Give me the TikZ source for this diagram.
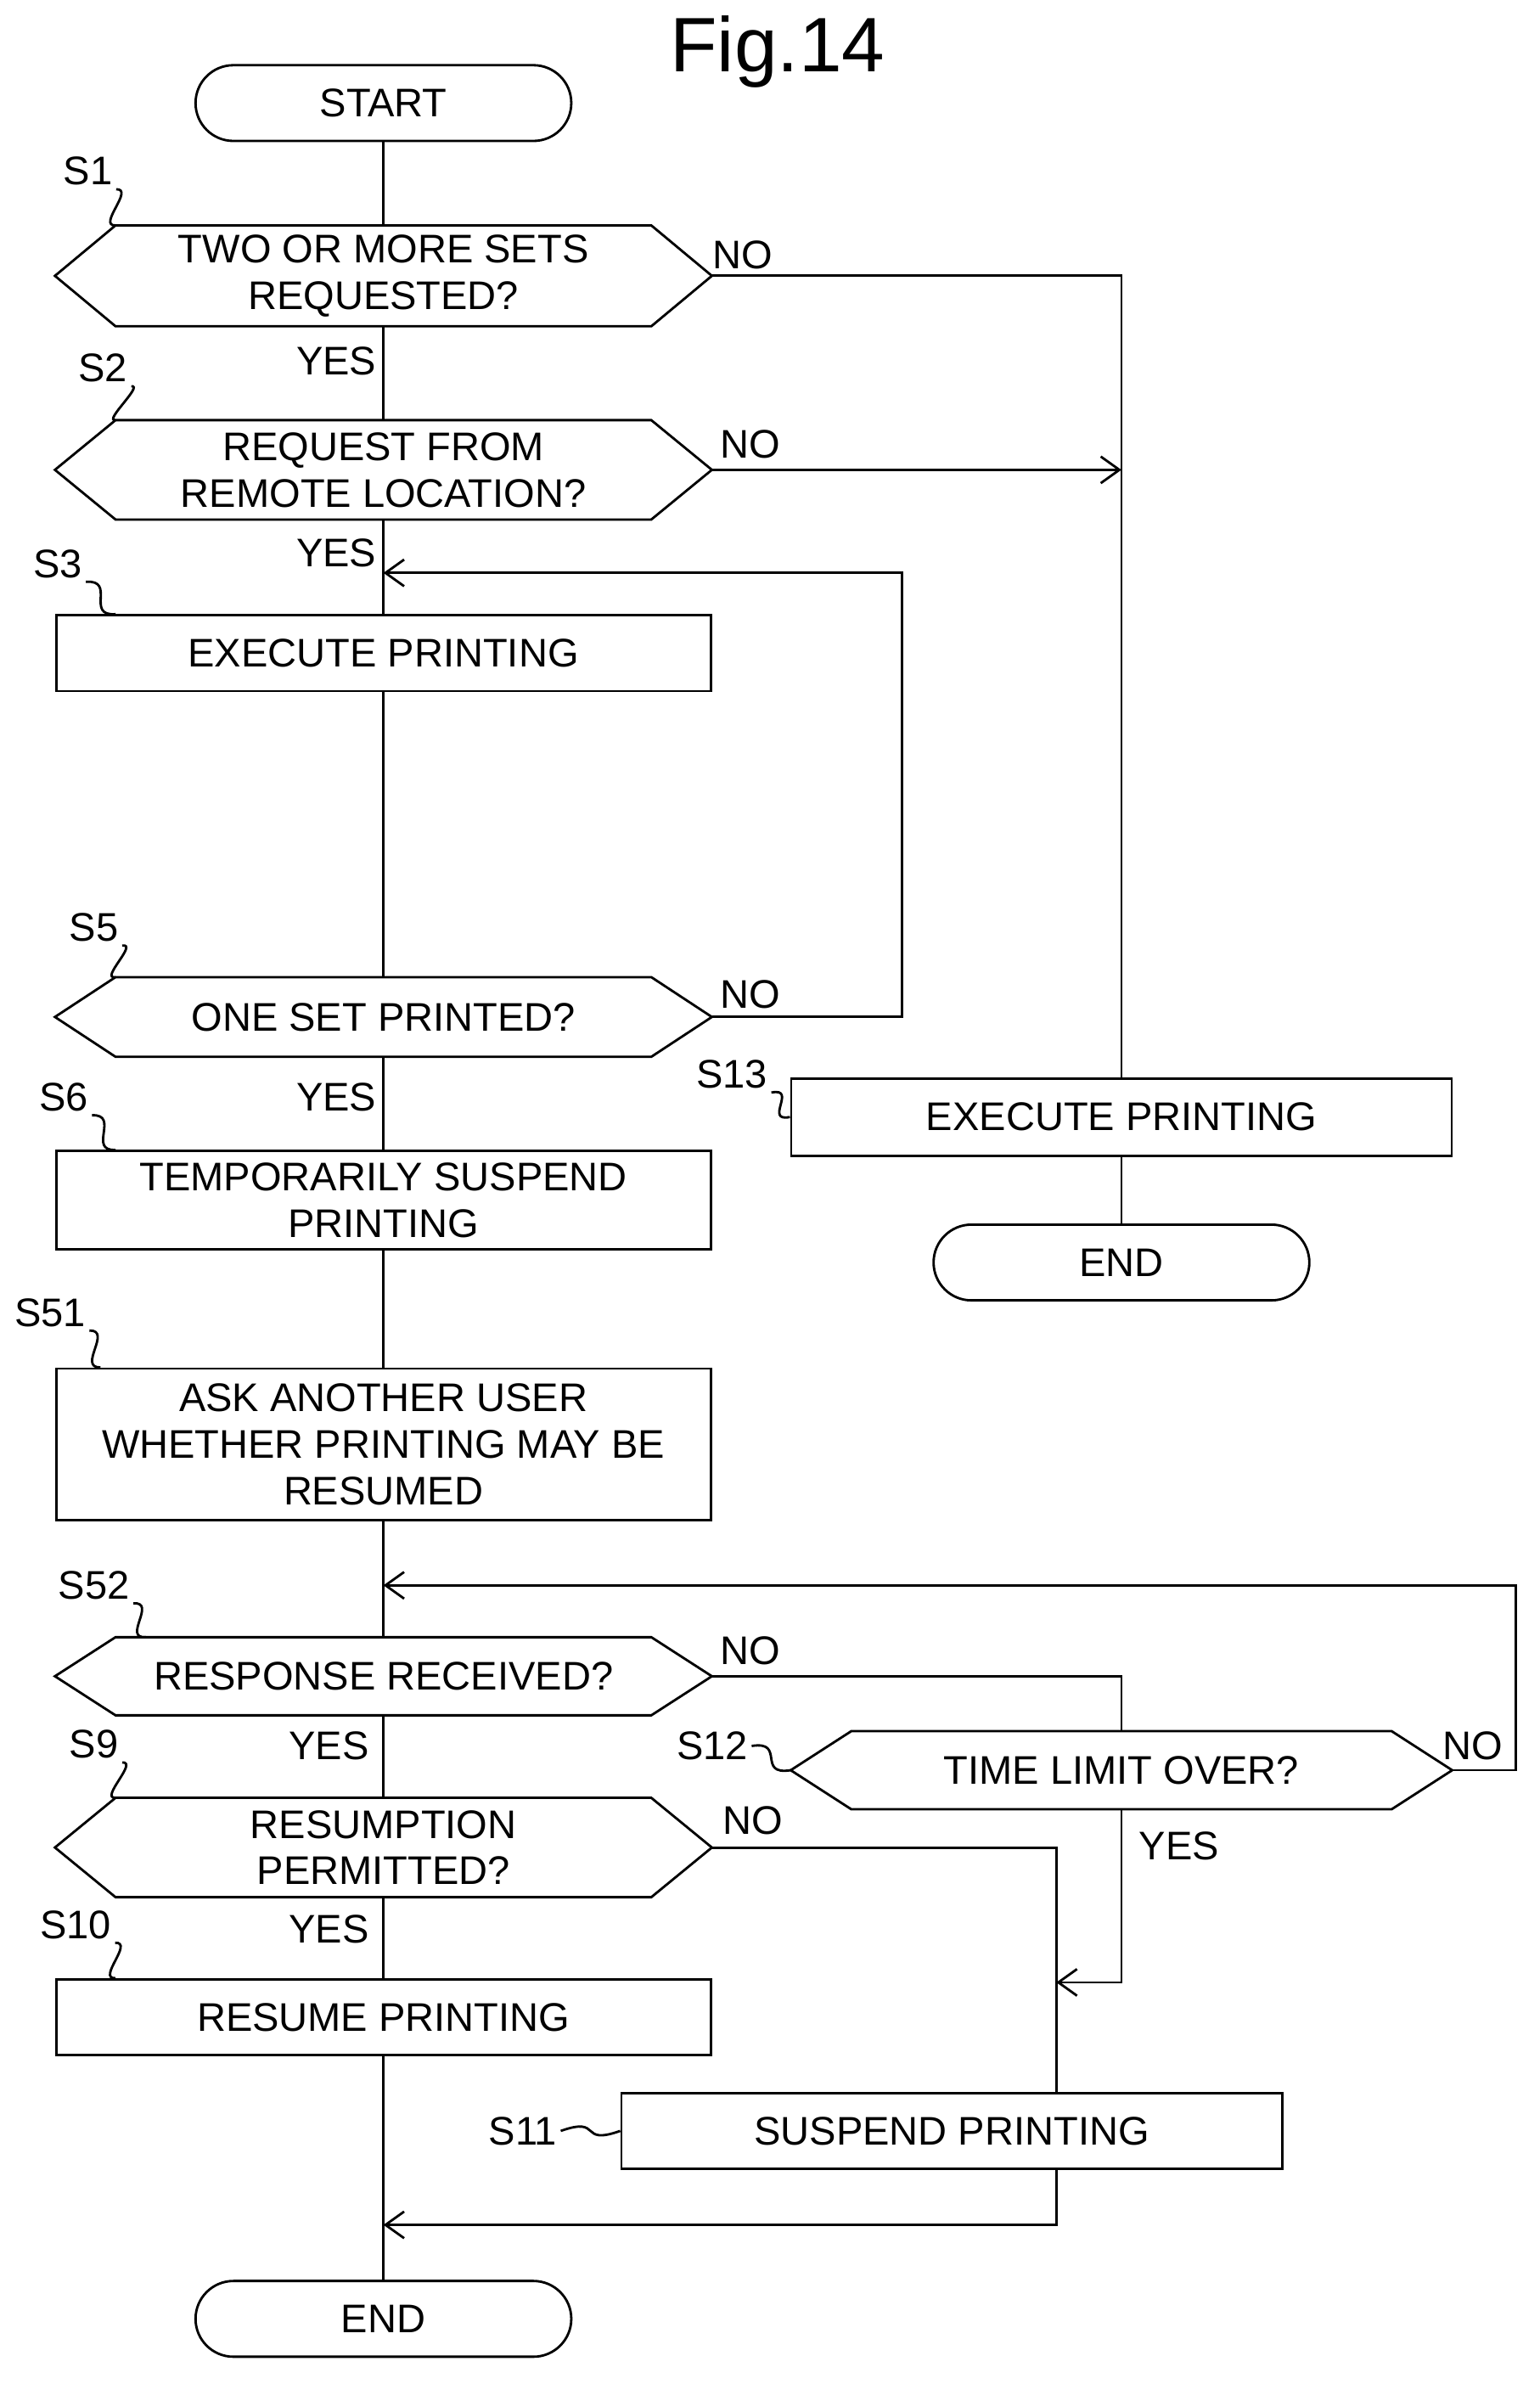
\documentclass[tikz,border=0pt]{standalone}
\usepackage{fontspec}
\setmainfont{Liberation Sans}
\usetikzlibrary{arrows.meta,calc}
\newcommand\fs{\fontsize{15}{17.5}\selectfont}
\newcommand\hexdraw[1]{\draw (#1.west) -- ([xshift=0.8cm]#1.north west) -- ([xshift=-0.8cm]#1.north east) -- (#1.east) -- ([xshift=-0.8cm]#1.south east) -- ([xshift=0.8cm]#1.south west) -- cycle;}
\newcommand\squig[2]{\draw (#1) .. controls ($(#1)!0.4!(#2)+(0.25cm,0.2cm)$) and ($(#1)!0.6!(#2)+(-0.25cm,-0.2cm)$) .. (#2);}
\begin{document}
\begin{tikzpicture}[x=0.02cm,y=-0.02cm,line width=0.9pt,
 box/.style={draw, minimum width=8.64cm, inner sep=0pt, align=center, font=\fs},
 hexa/.style={minimum width=8.64cm, inner sep=0pt, align=center, font=\fs},
 term/.style={draw, rounded corners=0.5cm, minimum width=4.96cm, minimum height=1cm, font=\fs},
 lab/.style={font=\fs, inner sep=1pt},
 ar/.style={-{Straight Barb[length=7pt,width=10pt]}}]
\useasboundingbox (0,0) rectangle (1016,1573);
\node[font=\fontsize{29}{33}\selectfont] (title) at (513,34) {Fig.14};
\node[term] (start) at (253,68) {START};
\node[hexa,minimum height=1.3cm] (s1) at (253,182) {TWO OR MORE SETS\\REQUESTED?}; \hexdraw{s1}
\node[hexa,minimum height=1.28cm] (s2) at (253,310) {REQUEST FROM\\REMOTE LOCATION?}; \hexdraw{s2}
\node[box,minimum height=1cm] (s3) at (253,431) {EXECUTE PRINTING};
\node[hexa,minimum height=1.02cm] (s5) at (253,671) {ONE SET PRINTED?}; \hexdraw{s5}
\node[box,minimum height=1.3cm] (s6) at (253,792) {TEMPORARILY SUSPEND\\PRINTING};
\node[box,minimum height=2cm] (s51) at (253,953) {ASK ANOTHER USER\\WHETHER PRINTING MAY BE\\RESUMED};
\node[hexa,minimum height=1cm] (s52) at (253,1106) {RESPONSE RECEIVED?}; \hexdraw{s52}
\node[hexa,minimum height=1.28cm] (s9) at (253,1219) {RESUMPTION\\PERMITTED?}; \hexdraw{s9}
\node[box,minimum height=1cm] (s10) at (253,1331) {RESUME PRINTING};
\node[box,minimum width=8.72cm,minimum height=1cm] (s11) at (628,1406) {SUSPEND PRINTING};
\node[term] (end1) at (253,1530) {END};
\node[box,minimum width=8.72cm,minimum height=1.02cm] (s13) at (740,737) {EXECUTE PRINTING};
\node[term] (end2) at (740,833) {END};
\node[hexa,minimum width=8.7cm,minimum height=1cm] (s12) at (740,1168) {TIME LIMIT OVER?}; \hexdraw{s12}
\coordinate (m1) at (253,378);
\coordinate (m2) at (253,1046);
\coordinate (m3) at (697,1308);
\coordinate (m4) at (253,1468);
\draw (start) -- (s1); \draw (s1) -- (s2); \draw (s2) -- (s3); \draw (s3) -- (s5);
\draw (s5) -- (s6); \draw (s6) -- (s51); \draw (s51) -- (s52); \draw (s52) -- (s9);
\draw (s9) -- (s10); \draw (s10) -- (end1);
\draw (s1.east) -| (s13.north);
\draw[ar] (s2.east) -- (s2.east -| s13.north);
\draw (s13) -- (end2);
\draw[ar] (s5.east) -- (595,671) |- (m1);
\draw (s52.east) -| (s12.north);
\draw[ar] (s12.east) -- (1000,1168) |- (m2);
\draw[ar] (s12.south) |- (m3);
\draw (s9.east) -| (m3) -- (m3 |- s11.north);
\draw[ar] (m3 |- s11.south) |- (m4);
\node[lab] (y1) at (222,238) {YES};
\node[lab] (n1) at (490,168) {NO};
\node[lab] (y2) at (222,365) {YES};
\node[lab] (n2) at (495,293) {NO};
\node[lab] (n5) at (495,656) {NO};
\node[lab] (y5) at (222,724) {YES};
\node[lab] (n52) at (495,1089) {NO};
\node[lab] (y52) at (217,1152) {YES};
\node[lab] (n12) at (972,1152) {NO};
\node[lab] (y12) at (778,1218) {YES};
\node[lab] (n9) at (497,1201) {NO};
\node[lab] (y9) at (217,1273) {YES};
\node[lab] (l1) at (58,113) {S1}; \squig{l1.south east}{[xshift=0.8cm]s1.north west}
\node[lab] (l2) at (68,243) {S2}; \squig{l2.south east}{[xshift=0.8cm]s2.north west}
\node[lab] (l3) at (38,372) {S3}; \squig{l3.south east}{[xshift=0.8cm]s3.north west}
\node[lab] (l5) at (62,612) {S5}; \squig{l5.south east}{[xshift=0.8cm]s5.north west}
\node[lab] (l6) at (42,724) {S6}; \squig{l6.south east}{[xshift=0.8cm]s6.north west}
\node[lab] (l51) at (33,866) {S51}; \squig{l51.south east}{[xshift=0.6cm]s51.north west}
\node[lab] (l52) at (62,1046) {S52}; \squig{l52.south east}{[xshift=1.2cm]s52.north west}
\node[lab] (l9) at (62,1151) {S9}; \squig{l9.south east}{[xshift=0.8cm]s9.north west}
\node[lab] (l10) at (50,1270) {S10}; \squig{l10.south east}{[xshift=0.8cm]s10.north west}
\node[lab] (l13) at (483,709) {S13}; \squig{l13.south east}{s13.west}
\node[lab] (l12) at (470,1152) {S12}; \squig{l12.east}{s12.west}
\node[lab] (l11) at (345,1406) {S11}; \squig{l11.east}{s11.west}
\end{tikzpicture}
\end{document}
